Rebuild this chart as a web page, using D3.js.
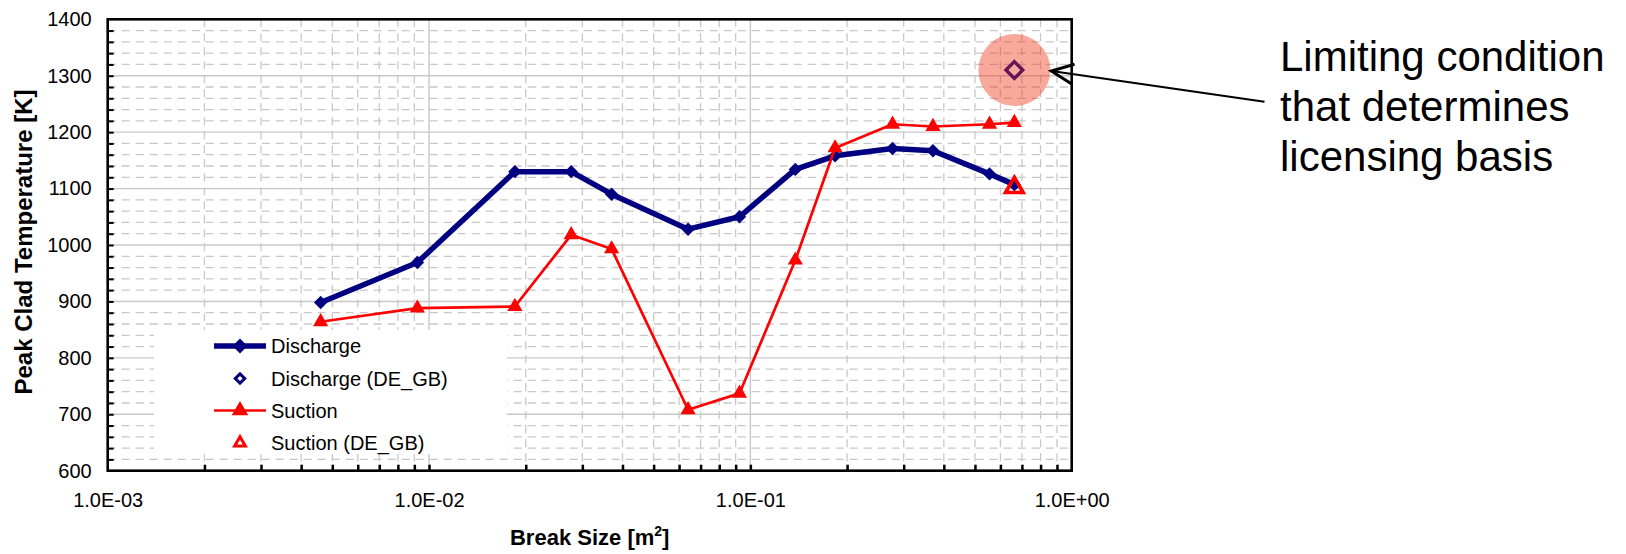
<!DOCTYPE html>
<html>
<head>
<meta charset="utf-8">
<script src="https://cdn.jsdelivr.net/npm/d3@7"></script>
<style>
  html, body { margin: 0; padding: 0; background: #fff; }
  svg { display: block; font-family: "Liberation Sans", Arial, sans-serif; }
</style>
</head>
<body>
<svg id="chart" width="1626" height="554"></svg>
<script>
// Break sizes shared by both pump-side break series [m^2]
const breakSize = [0.0046, 0.0092, 0.0185, 0.0277, 0.037, 0.064, 0.0925, 0.138, 0.1835, 0.277, 0.37, 0.555, 0.663];
// Peak clad temperature [K]
const discharge = [898, 969, 1130, 1130, 1090, 1028, 1050, 1134, 1158, 1171, 1167, 1126, 1107];
const suction   = [864, 888, 891, 1018, 993, 708, 737, 973, 1172, 1214, 1210, 1214, 1217];
// DE_GB cases
const dischargeDEGBSize = [0.663];
const dischargeDEGBTemp = [1310];
const suctionDEGBSize = [0.663];
const suctionDEGBTemp = [1102];

const yTicks = [600, 700, 800, 900, 1000, 1100, 1200, 1300, 1400];
const xTicks = [1e-3, 1e-2, 1e-1, 1];
const xTickLabels = ["1.0E-03", "1.0E-02", "1.0E-01", "1.0E+00"];
const legendLabels = ["Discharge", "Discharge (DE_GB)", "Suction", "Suction (DE_GB)"];
const noteLines = ["Limiting condition", "that determines", "licensing basis"];

const NAVY = "#000080", RED = "#ff0000", GRID = "#c8c8c8";
const plot = { left: 107.7, right: 1071.7, top: 19.3, bottom: 470.7 };

const svg = d3.select("#chart");
const x = d3.scaleLog().domain([1e-3, 1]).range([plot.left, plot.right]);
const y = d3.scaleLinear().domain([600, 1400]).range([plot.bottom, plot.top]);

// minor positions: 2..9 within each decade, and every 20 K
const xMinor = [];
[-3, -2, -1].forEach(e => { for (let k = 2; k <= 9; k++) xMinor.push(k * Math.pow(10, e)); });
const yMinor = d3.range(620, 1400, 20).filter(v => v % 100 !== 0);

// ---- grid ----
const grid = svg.append("g");
grid.selectAll(".hmin").data(yMinor).join("line")
  .attr("x1", plot.left).attr("x2", plot.right)
  .attr("y1", d => y(d)).attr("y2", d => y(d))
  .attr("stroke", GRID).attr("stroke-width", 1.3).attr("stroke-dasharray", "8,6");
grid.selectAll(".vmin").data(xMinor).join("line")
  .attr("x1", d => x(d)).attr("x2", d => x(d))
  .attr("y1", plot.top).attr("y2", plot.bottom)
  .attr("stroke", GRID).attr("stroke-width", 1.3).attr("stroke-dasharray", "8,6");
grid.selectAll(".hmaj").data(yTicks.slice(1, -1)).join("line")
  .attr("x1", plot.left).attr("x2", plot.right)
  .attr("y1", d => y(d)).attr("y2", d => y(d))
  .attr("stroke", GRID).attr("stroke-width", 1.4);
grid.selectAll(".vmaj").data(xTicks.slice(1, -1)).join("line")
  .attr("x1", d => x(d)).attr("x2", d => x(d))
  .attr("y1", plot.top).attr("y2", plot.bottom)
  .attr("stroke", GRID).attr("stroke-width", 1.4);

// ---- legend background (hides grid) ----
const legend = svg.append("g");
legend.append("rect").attr("x", 154).attr("y", 330).attr("width", 353).attr("height", 124).attr("fill", "#fff");

// ---- axes ----
const yAxis = svg.append("g").attr("transform", `translate(${plot.left},0)`)
  .call(d3.axisLeft(y).tickValues(yTicks).tickSize(0).tickPadding(16).tickFormat(d3.format("d")));
const yMinorAxis = svg.append("g").attr("transform", `translate(${plot.left},0)`)
  .call(d3.axisLeft(y).tickValues(d3.range(620, 1400, 20)).tickSize(-6).tickFormat(""));
const xAxis = svg.append("g").attr("transform", `translate(0,${plot.bottom})`)
  .call(d3.axisBottom(x).tickValues(xTicks).tickSize(0).tickPadding(22).tickFormat((d, i) => xTickLabels[i]));
const xMinorAxis = svg.append("g").attr("transform", `translate(0,${plot.bottom})`)
  .call(d3.axisBottom(x).tickValues(xMinor.concat([1e-2, 1e-1])).tickSize(-6).tickFormat(""));
[yAxis, yMinorAxis, xAxis, xMinorAxis].forEach(g => g.select(".domain").remove());
yMinorAxis.selectAll("line").attr("stroke", "#000").attr("stroke-width", 2);
xMinorAxis.selectAll("line").attr("stroke", "#000").attr("stroke-width", 2.5);
[yAxis, xAxis].forEach(g => g.selectAll("text")
  .attr("font-family", "Liberation Sans, Arial, sans-serif").attr("font-size", 20).attr("fill", "#000"));

svg.append("rect").attr("x", plot.left).attr("y", plot.top)
  .attr("width", plot.right - plot.left).attr("height", plot.bottom - plot.top)
  .attr("fill", "none").attr("stroke", "#000").attr("stroke-width", 2.6);

// ---- axis titles ----
const xt = svg.append("text").attr("x", (plot.left + plot.right) / 2).attr("y", 545)
  .attr("text-anchor", "middle").attr("font-weight", "bold").attr("font-size", 22);
xt.append("tspan").text("Break Size [m");
xt.append("tspan").attr("font-size", 14).attr("dy", -9).text("2");
xt.append("tspan").attr("dy", 9).text("]");
svg.append("text").attr("transform", `translate(32,242) rotate(-90)`)
  .attr("text-anchor", "middle").attr("font-weight", "bold").attr("font-size", 24)
  .text("Peak Clad Temperature [K]");

// ---- series ----
const diamond = d3.symbol().type(d3.symbolSquare);
const tri = d3.symbol().type(d3.symbolTriangle);
const line = d3.line().x(d => x(d[0])).y(d => y(d[1]));

const dPts = breakSize.map((b, i) => [b, discharge[i]]);
const sPts = breakSize.map((b, i) => [b, suction[i]]);

svg.append("path").datum(dPts).attr("d", line).attr("fill", "none")
  .attr("stroke", NAVY).attr("stroke-width", 5.5).attr("stroke-linejoin", "round");
svg.append("g").selectAll("path").data(dPts).join("path")
  .attr("transform", d => `translate(${x(d[0])},${y(d[1])}) rotate(45)`)
  .attr("d", diamond.size(90)()).attr("fill", NAVY);

svg.append("g").selectAll("path").data(dischargeDEGBSize.map((b, i) => [b, dischargeDEGBTemp[i]])).join("path")
  .attr("transform", d => `translate(${x(d[0])},${y(d[1])}) rotate(45)`)
  .attr("d", diamond.size(140)()).attr("fill", "none").attr("stroke", NAVY).attr("stroke-width", 3.4);

svg.append("path").datum(sPts).attr("d", line).attr("fill", "none")
  .attr("stroke", RED).attr("stroke-width", 2.7).attr("stroke-linejoin", "round");
svg.append("g").selectAll("path").data(sPts).join("path")
  .attr("transform", d => `translate(${x(d[0])},${y(d[1])})`)
  .attr("d", tri.size(100)()).attr("fill", RED);

svg.append("g").selectAll("path").data(suctionDEGBSize.map((b, i) => [b, suctionDEGBTemp[i]])).join("path")
  .attr("transform", d => `translate(${x(d[0])},${y(d[1])})`)
  .attr("d", tri.size(135)()).attr("fill", "none").attr("stroke", RED).attr("stroke-width", 3.6);

// ---- highlight of the limiting case ----
const hx = x(dischargeDEGBSize[0]), hy = y(dischargeDEGBTemp[0]), hr = 36;
svg.append("circle").attr("cx", hx).attr("cy", hy).attr("r", hr)
  .attr("fill", "rgb(240,50,20)").attr("fill-opacity", 0.42);

// ---- callout ----
const tipX = hx + hr + 1, tipY = hy + 1;
const tailX = 1264.5, tailY = 101.7;
svg.append("line").attr("x1", tailX).attr("y1", tailY).attr("x2", tipX).attr("y2", tipY)
  .attr("stroke", "#000").attr("stroke-width", 2);
{
  const dx = tailX - tipX, dy = tailY - tipY, L = Math.hypot(dx, dy);
  const ux = dx / L, uy = dy / L, px = -uy, py = ux;
  const len = 22, half = 10;
  svg.append("path")
    .attr("d", `M${tipX + ux * len + px * half},${tipY + uy * len + py * half}L${tipX},${tipY}L${tipX + ux * len - px * half},${tipY + uy * len - py * half}`)
    .attr("fill", "none").attr("stroke", "#000").attr("stroke-width", 3);
}
svg.append("g").selectAll("text").data(noteLines).join("text")
  .attr("x", 1280).attr("y", (d, i) => 70.5 + i * 50)
  .attr("font-size", 42).attr("fill", "#000").text(d => d);

// ---- legend entries ----
const ly = [346, 378.5, 410.5, 443];
const lx0 = 214, lx1 = 266, lmx = 240, ltx = 271;
legend.append("line").attr("x1", lx0).attr("x2", lx1).attr("y1", ly[0]).attr("y2", ly[0])
  .attr("stroke", NAVY).attr("stroke-width", 5.5);
legend.append("path").attr("transform", `translate(${lmx},${ly[0]}) rotate(45)`)
  .attr("d", diamond.size(110)()).attr("fill", NAVY);
legend.append("path").attr("transform", `translate(${lmx},${ly[1]}) rotate(45)`)
  .attr("d", diamond.size(45)()).attr("fill", "none").attr("stroke", NAVY).attr("stroke-width", 3);
legend.append("line").attr("x1", lx0).attr("x2", lx1).attr("y1", ly[2]).attr("y2", ly[2])
  .attr("stroke", RED).attr("stroke-width", 2.7);
legend.append("path").attr("transform", `translate(${lmx},${ly[2]})`)
  .attr("d", tri.size(120)()).attr("fill", RED);
legend.append("path").attr("transform", `translate(${lmx},${ly[3]})`)
  .attr("d", tri.size(50)()).attr("fill", "none").attr("stroke", RED).attr("stroke-width", 3);
legend.selectAll("text").data(legendLabels).join("text")
  .attr("x", ltx).attr("y", (d, i) => ly[i]).attr("dy", "0.35em")
  .attr("font-size", 20).attr("fill", "#000").text(d => d);
</script>
</body>
</html>
